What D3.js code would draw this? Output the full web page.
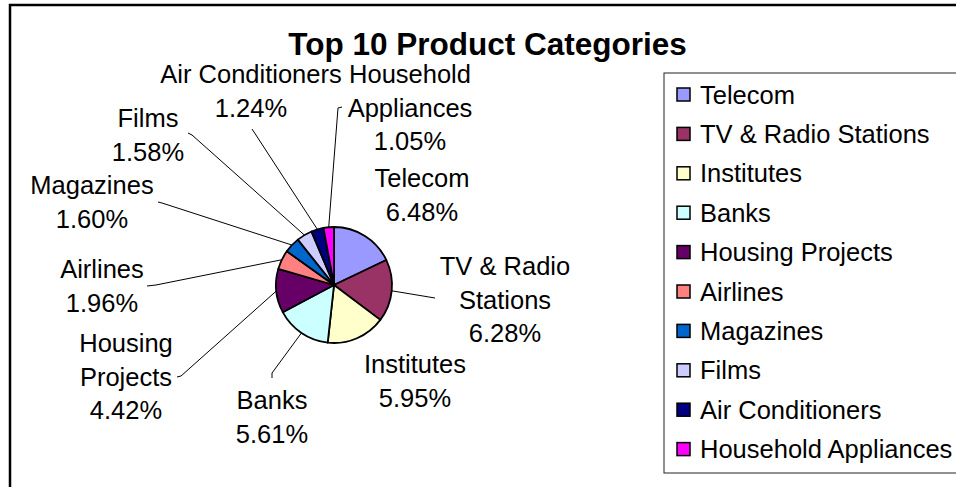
<!DOCTYPE html>
<html>
<head>
<meta charset="utf-8">
<script src="https://cdn.jsdelivr.net/npm/d3@7"></script>
<style>
  html, body { margin: 0; padding: 0; background: #fff; }
  svg { display: block; }
  text { font-family: Arial, "Liberation Sans", sans-serif; fill: #000; }
</style>
</head>
<body>
<svg id="chart" width="956" height="487"></svg>
<script>
// Product categories and their share (%)
const categories = ["Telecom", "TV & Radio Stations", "Institutes", "Banks", "Housing Projects",
                    "Airlines", "Magazines", "Films", "Air Conditioners", "Household Appliances"];
const shares = [6.48, 6.28, 5.95, 5.61, 4.42, 1.96, 1.60, 1.58, 1.24, 1.05];
const sliceColors = ["#9999FF", "#993366", "#FFFFCC", "#CCFFFF", "#660066",
                     "#FF8080", "#0066CC", "#CCCCFF", "#000080", "#FF00FF"];
// How each data label breaks its category name over lines
const labelLines = [["Telecom"], ["TV & Radio", "Stations"], ["Institutes"], ["Banks"],
                    ["Housing", "Projects"], ["Airlines"], ["Magazines"], ["Films"],
                    ["Air Conditioners"], ["Household", "Appliances"]];

// Label placement: text centre / first baseline, and leader-line start (null = no leader)
const labelLayout = [
  { x: 422, y: 187, lead: null },
  { x: 505, y: 275, lead: [[435, 298]] },
  { x: 415, y: 373, lead: null },
  { x: 272, y: 409, lead: [[272, 378], [272, 373]] },
  { x: 126, y: 352, lead: [[177, 377], [181, 376]] },
  { x: 102, y: 278, lead: [[147, 286], [156, 285]] },
  { x: 92,  y: 194, lead: [[158, 202], [162, 203]] },
  { x: 148, y: 127, lead: [[188, 133], [192, 135]] },
  { x: 251, y: 83,  lead: [[252, 129], [254, 132]] },
  { x: 410, y: 83,  lead: [[342, 107], [338, 108]] }
];

const svg = d3.select("#chart");
const cx = 334, cy = 285, r = 58;
const fontSize = 25.5, lineH = 33.5;

// Chart frame
svg.append("rect")
  .attr("x", 10).attr("y", 5).attr("width", 1000).attr("height", 520)
  .attr("fill", "#fff").attr("stroke", "#000").attr("stroke-width", 2.5);

// Title
svg.append("text")
  .attr("x", 487.5).attr("y", 55)
  .attr("text-anchor", "middle")
  .style("font-size", "31.5px").style("font-weight", "bold")
  .text("Top 10 Product Categories");

const data = categories.map((c, i) => ({ name: c, value: shares[i], i }));
const pie = d3.pie().value(d => d.value).sort(null);
const arcs = pie(data);
const arc = d3.arc().innerRadius(0).outerRadius(r);
const edge = d3.arc().innerRadius(r).outerRadius(r);

const g = svg.append("g").attr("transform", `translate(${cx},${cy})`);
g.selectAll("path.slice")
  .data(arcs)
  .join("path")
  .attr("class", "slice")
  .attr("d", arc)
  .attr("fill", d => sliceColors[d.data.i])
  .attr("stroke", "#000")
  .attr("stroke-width", 1.8)
  .attr("stroke-linejoin", "round");

// Leader lines from label to slice edge
const line = d3.line();
arcs.forEach(a => {
  const lay = labelLayout[a.data.i];
  if (!lay.lead) return;
  const mid = (a.startAngle + a.endAngle) / 2;
  const end = [cx + r * Math.sin(mid), cy - r * Math.cos(mid)];
  svg.append("path")
    .attr("d", line([...lay.lead, end]))
    .attr("fill", "none")
    .attr("stroke", "#000")
    .attr("stroke-width", 1);
});

// Data labels
arcs.forEach(a => {
  const i = a.data.i;
  const lay = labelLayout[i];
  const lines = [...labelLines[i], shares[i].toFixed(2) + "%"];
  const t = svg.append("text")
    .attr("text-anchor", "middle")
    .style("font-size", fontSize + "px");
  lines.forEach((s, k) => {
    t.append("tspan").attr("x", lay.x).attr("y", lay.y + k * lineH).text(s);
  });
});

// Legend
const legX = 664, legY = 73, rowH = 39.4, firstBase = 103.5;
svg.append("rect")
  .attr("x", legX).attr("y", legY).attr("width", 320).attr("height", 400)
  .attr("fill", "#fff").attr("stroke", "#222").attr("stroke-width", 1);

const rows = svg.append("g").selectAll("g")
  .data(data)
  .join("g")
  .attr("transform", d => `translate(0,${firstBase + d.i * rowH})`);
rows.append("rect")
  .attr("x", 677).attr("y", -15.5).attr("width", 13).attr("height", 13)
  .attr("fill", d => sliceColors[d.i])
  .attr("stroke", "#000").attr("stroke-width", 1.5);
rows.append("text")
  .attr("x", 700).attr("y", 0)
  .style("font-size", fontSize + "px")
  .text(d => d.name);
</script>
</body>
</html>
